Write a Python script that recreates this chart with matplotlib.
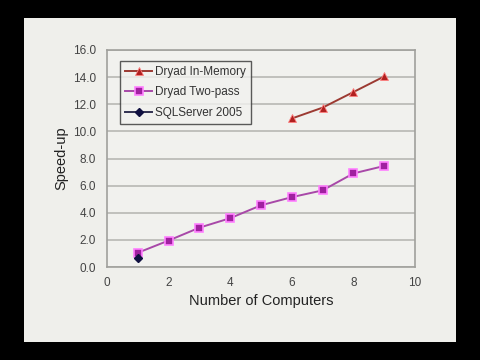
import matplotlib
matplotlib.use("Agg")
import matplotlib.pyplot as plt

plt.rcParams['font.family'] = ['Liberation Sans', 'DejaVu Sans']

mem_x = [6, 7, 8, 9]
mem_y = [10.95, 11.75, 12.9, 14.05]
two_x = [1, 2, 3, 4, 5, 6, 7, 8, 9]
two_y = [1.05, 1.95, 2.9, 3.6, 4.55, 5.15, 5.65, 6.9, 7.45]
sql_x = [1]
sql_y = [0.65]
yticks = [0, 2, 4, 6, 8, 10, 12, 14, 16]
xticks = [0, 2, 4, 6, 8, 10]

fig = plt.figure(figsize=(4.8, 3.6), dpi=100)
fig.patch.set_facecolor('black')
panel = fig.add_axes([24/480, 1 - 342/360, 432/480, 324/360])
panel.set_facecolor('#efefeb')
panel.set_xticks([]); panel.set_yticks([])
for s in panel.spines.values():
    s.set_visible(False)

ax = fig.add_axes([107/480, 1 - 267/360, 308/480, 217/360])
ax.set_facecolor('#f1f1ee')
ax.set_xlim(0, 10)
ax.set_ylim(0, 16)
ax.set_yticks(yticks)
ax.set_yticklabels([f"{v:.1f}" for v in yticks])
ax.set_xticks(xticks)
ax.set_xticklabels([str(v) for v in xticks])
ax.grid(axis='y', color='#b8b8b4', linewidth=1.2)
ax.set_axisbelow(True)
for s in ax.spines.values():
    s.set_color('#a0a09c')
    s.set_linewidth(1.2)
ax.tick_params(axis='y', length=0, labelsize=8.5, colors='#444444', pad=8)
ax.tick_params(axis='x', length=0, labelsize=8.5, colors='#444444', pad=7)

l1, = ax.plot(mem_x, mem_y, color='#9c3a32', marker='^', markersize=6,
              markerfacecolor='#b02020', markeredgecolor='#ff8080', markeredgewidth=0.6,
              linewidth=1.4, label='Dryad In-Memory')
l2, = ax.plot(two_x, two_y, color='#a848a8', marker='s', markersize=6,
              markerfacecolor='#a020a0', markeredgecolor='#ff80ff', markeredgewidth=1.2,
              linewidth=1.4, label='Dryad Two-pass')
l3, = ax.plot(sql_x, sql_y, color='#303050', marker='D', markersize=4.5,
              markerfacecolor='#101040', markeredgecolor='#101040',
              linewidth=1.4, label='SQLServer 2005')

leg = ax.legend(handles=[l1, l2, l3], loc='upper left', bbox_to_anchor=(0.042, 0.95),
                borderaxespad=0, fontsize=8.5, frameon=True, fancybox=False,
                handlelength=2.3, handletextpad=0.2, borderpad=0.45, labelspacing=0.7)
leg.get_frame().set_edgecolor('#333333')
leg.get_frame().set_linewidth(1.0)
leg.get_frame().set_facecolor('#f1f1ee')
for t in leg.get_texts():
    t.set_color('#333333')

ax.set_xlabel('Number of Computers', fontsize=10.5, color='#222222', labelpad=4)
ax.set_ylabel('Speed-up', fontsize=10.5, color='#222222', labelpad=3)

fig.savefig('out.png', dpi=100, facecolor='black')
